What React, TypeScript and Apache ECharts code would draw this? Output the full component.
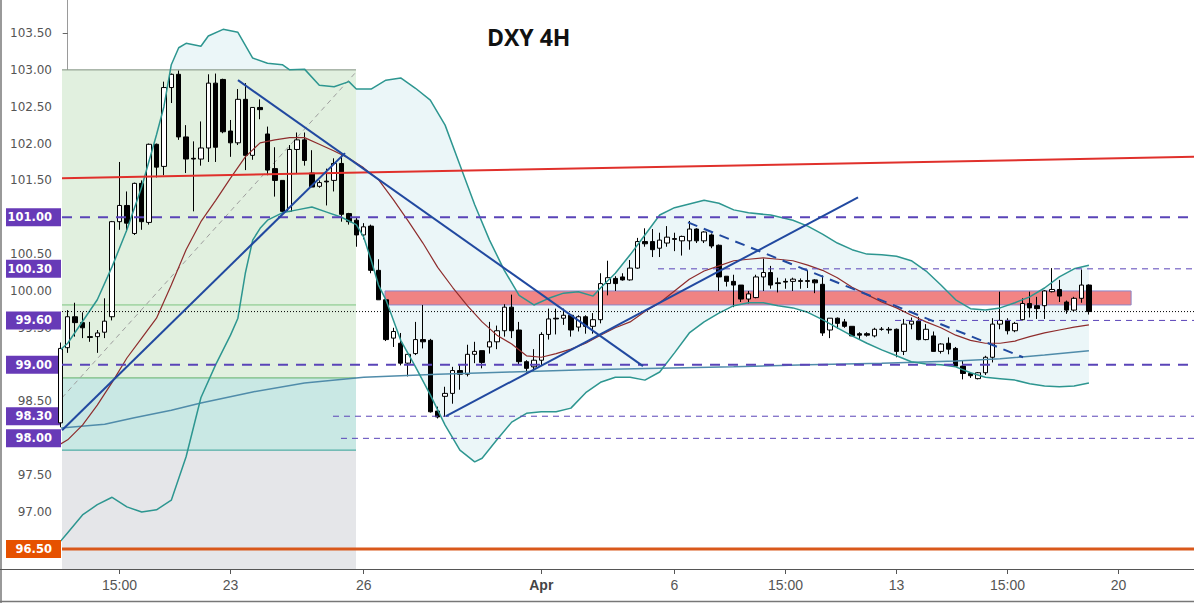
import React, { useEffect, useRef } from 'react';
import * as echarts from 'echarts';

// ---------- axes ----------
const X_MIN = -0.77;
const X_MAX = 152.2;
const Y_MIN = 96.227;
const Y_MAX = 103.948;

const TICK_IDX = [7, 22, 40, 64, 82, 97, 112, 127, 142];
const TICK_LABELS = ['15:00', '23', '26', 'Apr', '6', '15:00', '13', '15:00', '20'];

const Y_LABELS = [97, 97.5, 98.5, 99.5, 100, 100.5, 101.5, 102, 102.5, 103, 103.5];
const KEY_LEVELS = [101.0, 100.3, 99.6, 99.0, 98.3, 98.0];
const SUPPORT_LEVEL = 96.5;

// ---------- candles: [index, open, close, low, high] ----------
const CANDLES: number[][] = [
  [-1, 98.21, 99.22, 98.15, 99.3],
  [0, 99.23, 99.65, 99.16, 99.74],
  [1, 99.65, 99.57, 99.38, 99.84],
  [2, 99.57, 99.5, 99.36, 99.71],
  [3, 99.38, 99.37, 99.31, 99.58],
  [4, 99.38, 99.43, 99.16, 99.47],
  [5, 99.44, 99.59, 99.36, 99.9],
  [6, 99.65, 100.94, 99.6, 100.95],
  [7, 100.94, 101.16, 100.83, 101.75],
  [8, 101.16, 100.92, 100.8, 101.35],
  [9, 100.78, 101.46, 100.76, 101.47],
  [10, 101.46, 100.94, 100.83, 101.5],
  [11, 100.93, 101.99, 100.9, 102.0],
  [12, 101.99, 101.68, 101.54, 102.0],
  [13, 101.69, 102.76, 101.57, 102.84],
  [14, 102.76, 102.94, 102.55, 102.95],
  [15, 102.94, 102.09, 102.05, 102.99],
  [16, 102.09, 101.79, 101.6, 102.25],
  [17, 101.8, 101.79, 101.08, 102.03],
  [18, 101.79, 101.94, 101.7, 102.3],
  [19, 101.94, 102.82, 101.75, 102.94],
  [20, 102.82, 101.95, 101.75, 102.95],
  [21, 102.87, 102.16, 102.14, 102.88],
  [22, 102.17, 102.01, 101.82, 102.32],
  [23, 102.01, 102.6, 101.98, 102.74],
  [24, 102.6, 101.84, 101.64, 102.82],
  [25, 101.84, 102.49, 101.78, 102.49],
  [26, 102.49, 102.46, 102.33, 102.6],
  [27, 102.13, 101.64, 101.57, 102.23],
  [28, 101.66, 101.5, 101.28, 101.95],
  [29, 101.5, 101.08, 101.07, 101.5],
  [30, 101.08, 101.92, 101.07, 101.98],
  [31, 101.92, 102.05, 101.6, 102.15],
  [32, 102.05, 101.77, 101.7, 102.15],
  [33, 101.6, 101.41, 101.41, 101.91],
  [34, 101.42, 101.47, 101.4, 101.5],
  [35, 101.49, 101.48, 101.16, 101.66],
  [36, 101.5, 101.73, 101.35, 101.8],
  [37, 101.73, 101.04, 100.94, 101.84],
  [38, 101.05, 100.94, 100.9, 101.06],
  [39, 100.96, 100.76, 100.6, 101.0],
  [40, 100.76, 100.87, 100.7, 100.92],
  [41, 100.88, 100.28, 100.24, 100.9],
  [42, 100.28, 99.88, 99.88, 100.43],
  [43, 99.88, 99.34, 99.32, 99.9],
  [44, 99.36, 99.45, 99.24, 99.5],
  [45, 99.29, 99.02, 98.99, 99.43],
  [46, 99.02, 99.14, 98.84, 99.14],
  [47, 99.15, 99.34, 99.13, 99.58],
  [48, 99.34, 99.31, 99.22, 99.81],
  [49, 99.33, 98.36, 98.35, 99.35],
  [50, 98.37, 98.29, 98.27, 98.43],
  [51, 98.57, 98.61, 98.29, 98.7],
  [52, 98.61, 98.92, 98.47, 98.97],
  [53, 98.92, 98.87, 98.66, 99.0],
  [54, 98.87, 99.14, 98.84, 99.27],
  [55, 99.14, 99.18, 99.02, 99.31],
  [56, 99.19, 99.03, 98.95, 99.19],
  [57, 99.24, 99.31, 99.15, 99.58],
  [58, 99.31, 99.46, 99.21, 99.53],
  [59, 99.46, 99.78, 99.38, 99.82],
  [60, 99.78, 99.46, 99.36, 99.95],
  [61, 99.47, 99.04, 99.0, 99.58],
  [62, 99.04, 98.95, 98.89, 99.06],
  [63, 98.97, 99.06, 98.9, 99.21],
  [64, 99.06, 99.41, 98.99, 99.44],
  [65, 99.41, 99.62, 99.34, 99.76],
  [66, 99.63, 99.62, 99.41, 99.76],
  [67, 99.63, 99.67, 99.54, 99.76],
  [68, 99.67, 99.47, 99.38, 99.68],
  [69, 99.51, 99.65, 99.45, 99.67],
  [70, 99.65, 99.52, 99.42, 99.67],
  [71, 99.52, 99.61, 99.42, 99.7],
  [72, 99.61, 100.1, 99.56, 100.24],
  [73, 100.1, 100.18, 99.94, 100.41],
  [74, 100.17, 100.1, 100.0, 100.2],
  [75, 100.19, 100.15, 100.14, 100.24],
  [76, 100.15, 100.31, 100.14, 100.42],
  [77, 100.31, 100.67, 100.3, 100.72],
  [78, 100.67, 100.64, 100.6, 100.85],
  [79, 100.67, 100.56, 100.46, 100.84],
  [80, 100.58, 100.69, 100.46, 100.79],
  [81, 100.65, 100.73, 100.6, 100.88],
  [82, 100.71, 100.7, 100.54, 100.79],
  [83, 100.68, 100.74, 100.48, 100.75],
  [84, 100.68, 100.84, 100.56, 100.95],
  [85, 100.84, 100.68, 100.65, 100.85],
  [86, 100.68, 100.8, 100.65, 100.81],
  [87, 100.76, 100.61, 100.58, 100.78],
  [88, 100.62, 100.19, 100.0, 100.63],
  [89, 100.2, 100.13, 100.06, 100.2],
  [90, 100.13, 100.08, 99.78, 100.22],
  [91, 100.08, 99.89, 99.85, 100.08],
  [92, 99.89, 99.96, 99.83, 100.0],
  [93, 99.91, 100.19, 99.9, 100.22],
  [94, 100.19, 100.25, 100.0, 100.44],
  [95, 100.25, 100.08, 100.03, 100.34],
  [96, 100.11, 100.1, 99.98, 100.18],
  [97, 100.13, 100.12, 100.03, 100.17],
  [98, 100.13, 100.16, 100.0, 100.18],
  [99, 100.14, 100.13, 100.03, 100.17],
  [100, 100.14, 100.13, 100.04, 100.28],
  [101, 100.15, 100.11, 99.97, 100.16],
  [102, 100.09, 99.43, 99.39, 100.21],
  [103, 99.47, 99.63, 99.36, 99.63],
  [104, 99.63, 99.56, 99.49, 99.64],
  [105, 99.58, 99.52, 99.5, 99.62],
  [106, 99.52, 99.39, 99.39, 99.52],
  [107, 99.42, 99.4, 99.35, 99.44],
  [108, 99.42, 99.4, 99.38, 99.44],
  [109, 99.39, 99.48, 99.37, 99.5],
  [110, 99.48, 99.48, 99.46, 99.51],
  [111, 99.48, 99.47, 99.42, 99.51],
  [112, 99.48, 99.18, 99.1, 99.49],
  [113, 99.18, 99.55, 99.13, 99.62],
  [114, 99.55, 99.59, 99.48, 99.64],
  [115, 99.59, 99.34, 99.33, 99.65],
  [116, 99.34, 99.48, 99.33, 99.55],
  [117, 99.39, 99.18, 99.18, 99.45],
  [118, 99.18, 99.28, 99.15, 99.29],
  [119, 99.29, 99.21, 99.14, 99.37],
  [120, 99.22, 98.98, 98.98, 99.24],
  [121, 98.98, 98.88, 98.8, 99.05],
  [122, 98.88, 98.85, 98.82, 98.89],
  [123, 98.81, 98.89, 98.8, 98.9],
  [124, 98.89, 99.1, 98.86, 99.12],
  [125, 99.1, 99.55, 99.03, 99.63],
  [126, 99.55, 99.6, 99.48, 99.99],
  [127, 99.6, 99.46, 99.41, 99.63],
  [128, 99.46, 99.56, 99.44, 99.58],
  [129, 99.61, 99.83, 99.6, 99.9],
  [130, 99.83, 99.77, 99.64, 99.99],
  [131, 99.8, 99.76, 99.62, 99.92],
  [132, 99.8, 100.0, 99.62, 100.01],
  [133, 99.99, 100.02, 99.98, 100.31],
  [134, 100.02, 99.93, 99.85, 100.15],
  [135, 99.85, 99.74, 99.69, 99.87],
  [136, 99.74, 99.9, 99.72, 99.92],
  [137, 99.9, 100.08, 99.84, 100.29],
  [138, 100.08, 99.72, 99.68, 100.09],
];

// ---------- indicators: [index, value] ----------
const BB_UPPER: number[][] = [
  [-1, 99.2], [0, 99.29], [4, 99.88], [6, 100.33], [8, 100.83], [10, 101.41], [12, 102.12], [13, 102.5],
  [14, 103.07], [15, 103.3], [16, 103.36], [18, 103.32], [19, 103.46], [21, 103.55], [23, 103.51],
  [25, 103.16], [27, 103.09], [29, 103.07], [30, 103.0], [32, 103.01], [34, 102.79], [36, 102.77],
  [38, 102.84], [39, 102.74], [41, 102.74], [43, 102.86], [45, 102.89], [47, 102.75], [49, 102.59],
  [51, 102.25], [53, 101.71], [55, 101.17], [57, 100.69], [59, 100.28], [61, 99.94], [63, 99.81],
  [65, 99.9], [67, 99.97], [69, 99.99], [71, 99.93], [72, 100.04], [74, 100.24], [76, 100.49],
  [78, 100.76], [80, 101.03], [82, 101.13], [84, 101.18], [86, 101.23], [88, 101.19], [90, 101.1],
  [92, 101.06], [95, 101.03], [98, 100.96], [100, 100.88], [102, 100.77], [104, 100.65], [106, 100.56],
  [108, 100.5], [110, 100.49], [112, 100.47], [114, 100.41], [116, 100.27], [118, 100.08], [120, 99.88],
  [122, 99.76], [124, 99.74], [126, 99.77], [128, 99.84], [130, 99.92], [132, 100.04], [134, 100.19],
  [136, 100.3], [138, 100.35],
];
const BB_LOWER: number[][] = [
  [-1, 96.6], [0, 96.72], [2, 96.96], [4, 97.1], [6, 97.2], [8, 97.07], [10, 97.0], [12, 97.03],
  [14, 97.16], [16, 97.75], [17, 98.15], [18, 98.55], [20, 99.0], [22, 99.4], [23, 99.63], [24, 100.24],
  [25, 100.69], [26, 100.85], [27, 100.96], [29, 101.06], [31, 101.1], [33, 101.14], [35, 101.07],
  [37, 101.0], [39, 100.9], [40, 100.73], [41, 100.42], [42, 100.08], [43, 99.88], [45, 99.33],
  [47, 98.97], [49, 98.59], [51, 98.18], [53, 97.84], [55, 97.68], [56, 97.73], [58, 97.98], [60, 98.22],
  [62, 98.34], [64, 98.36], [66, 98.36], [68, 98.41], [70, 98.62], [72, 98.76], [74, 98.83], [76, 98.83],
  [78, 98.79], [80, 98.9], [82, 99.16], [84, 99.43], [86, 99.58], [88, 99.7], [90, 99.8], [92, 99.84],
  [94, 99.84], [96, 99.8], [98, 99.77], [100, 99.71], [102, 99.61], [104, 99.5], [106, 99.39], [108, 99.29],
  [110, 99.2], [112, 99.12], [114, 99.04], [116, 99.01], [118, 99.0], [120, 98.97], [122, 98.89],
  [124, 98.83], [126, 98.81], [128, 98.79], [130, 98.74], [132, 98.71], [134, 98.7], [136, 98.71],
  [138, 98.75],
];
const BB_BASIS: number[][] = [
  [-1, 97.92], [0, 97.98], [2, 98.18], [4, 98.45], [6, 98.76], [8, 99.09], [10, 99.36], [12, 99.63],
  [14, 100.08], [16, 100.56], [18, 100.94], [20, 101.23], [22, 101.53], [24, 101.82], [26, 102.01],
  [28, 102.05], [30, 102.08], [32, 102.08], [34, 101.99], [36, 101.9], [38, 101.8], [40, 101.67],
  [42, 101.51], [44, 101.24], [46, 100.95], [48, 100.65], [50, 100.32], [52, 100.05], [54, 99.8],
  [56, 99.58], [58, 99.4], [60, 99.28], [62, 99.12], [64, 99.1], [66, 99.15], [68, 99.21], [70, 99.29],
  [72, 99.4], [74, 99.5], [76, 99.58], [78, 99.72], [80, 99.84], [82, 100.0], [84, 100.16], [86, 100.27],
  [88, 100.34], [90, 100.41], [92, 100.43], [94, 100.45], [96, 100.43], [98, 100.41], [100, 100.35],
  [102, 100.28], [104, 100.18], [106, 100.05], [108, 99.95], [110, 99.85], [112, 99.77], [114, 99.67],
  [116, 99.58], [118, 99.5], [120, 99.4], [122, 99.33], [124, 99.29], [126, 99.29], [128, 99.32],
  [130, 99.38], [132, 99.43], [134, 99.47], [136, 99.51], [138, 99.54],
];
const MA_LONG: number[][] = [
  [-1, 98.14], [5, 98.19], [9, 98.28], [14, 98.38], [18, 98.48], [25, 98.63], [32, 98.75], [40, 98.83],
  [50, 98.87], [60, 98.9], [70, 98.93], [80, 98.95], [90, 98.97], [100, 99.0], [110, 99.02], [120, 99.05],
  [126, 99.08], [132, 99.13], [138, 99.19],
];

// ---------- drawings ----------
const POSITION_X = [-0.77, 38.96];
const GREEN_ZONE = [98.82, 103.0];
const TEAL_ZONE = [97.84, 98.82];
const GRAY_ZONE = [96.227, 97.84];
const POSITION_ENTRY = 99.81;
const POSITION_DIAG = [[-0.77, 98.55], [38.96, 102.97]];

const SUPPLY_X = [42.88, 143.7];
const SUPPLY_Y = [99.81, 100.0];

const MAJOR_LEVELS = [101.0, 99.0];
const MINOR_LEVELS = [100.3, 99.6, 98.3, 98.0];
const MINOR_LEVEL_START = [79.77, 111.8, 35.85, 36.93];
const LAST_PRICE = 99.72;

const RED_TREND = [[-0.77, 101.53], [152.2, 101.82]];
const BLUE_TRENDS = [
  [[-0.77, 98.11], [37.47, 101.87]],
  [[23.01, 102.86], [77.74, 98.98]],
  [[51.12, 98.3], [106.8, 101.27]],
];
const BLUE_DASHED = [[83.82, 100.93], [129.1, 99.1]];

const PURPLE = '#673ab7';
const ORANGE = '#e65100';

function line(data: number[][], color: string, width: number, type: any, z: number) {
  return {
    type: 'line',
    data,
    showSymbol: false,
    symbol: 'none',
    silent: true,
    clip: true,
    z,
    lineStyle: { color, width, type },
  };
}

function rectSeries(rects: number[][], fills: string[], z: number) {
  return {
    type: 'custom',
    silent: true,
    z,
    clip: true,
    data: rects.map((r, i) => [...r, i]),
    renderItem: (params: any, api: any) => {
      const a = api.coord([api.value(0), api.value(3)]);
      const b = api.coord([api.value(2), api.value(1)]);
      const idx = api.value(4);
      return {
        type: 'rect',
        shape: { x: a[0], y: a[1], width: b[0] - a[0], height: b[1] - a[1] },
        style: { fill: fills[idx], stroke: idx >= 3 ? '#8a86c8' : 'none', lineWidth: 1 },
      };
    },
  };
}

export default function App() {
  const ref = useRef<HTMLDivElement>(null);

  useEffect(() => {
    const chart = echarts.init(ref.current!, null, { renderer: 'svg' });

    const allY = [...Y_LABELS, ...KEY_LEVELS, SUPPORT_LEVEL];
    const isKey = (v: number) => KEY_LEVELS.some((k) => Math.abs(k - v) < 1e-6);

    const series: any[] = [];

    // Bollinger fill
    series.push({
      type: 'custom',
      silent: true,
      z: 1,
      clip: true,
      data: [[0, 100]],
      renderItem: (params: any, api: any) => {
        const pts: number[][] = [];
        BB_UPPER.forEach((p) => pts.push(api.coord(p)));
        for (let k = BB_LOWER.length - 1; k >= 0; k--) pts.push(api.coord(BB_LOWER[k]));
        return { type: 'polygon', shape: { points: pts }, style: { fill: '#ebf6f8' } };
      },
    });

    // position zones + supply zone
    series.push(
      rectSeries(
        [
          [POSITION_X[0], GREEN_ZONE[0], POSITION_X[1], GREEN_ZONE[1]],
          [POSITION_X[0], TEAL_ZONE[0], POSITION_X[1], TEAL_ZONE[1]],
          [POSITION_X[0], GRAY_ZONE[0], POSITION_X[1], GRAY_ZONE[1]],
          [SUPPLY_X[0], SUPPLY_Y[0], SUPPLY_X[1], SUPPLY_Y[1]],
        ],
        ['#e1f0df', '#c9e8e4', '#e5e6e9', 'rgba(240,110,110,0.85)'],
        2
      )
    );

    // zone edge lines
    series.push(line([[POSITION_X[0], GREEN_ZONE[1]], [POSITION_X[1], GREEN_ZONE[1]]], '#7f9080', 1, 'solid', 3));
    series.push(line([[POSITION_X[0], POSITION_ENTRY], [POSITION_X[1], POSITION_ENTRY]], '#7cc47f', 1, 'solid', 3));
    series.push(line([[POSITION_X[0], GREEN_ZONE[0]], [POSITION_X[1], GREEN_ZONE[0]]], '#5fb06a', 1, 'solid', 3));
    series.push(line([[POSITION_X[0], TEAL_ZONE[0]], [POSITION_X[1], TEAL_ZONE[0]]], '#2f9e94', 1, 'solid', 3));
    series.push(line(POSITION_DIAG, '#9e9e9e', 1, [5, 4], 3));

    // candles
    series.push({
      type: 'candlestick',
      data: CANDLES,
      encode: { x: 0, y: [1, 2, 3, 4] },
      barWidth: 5,
      clip: true,
      silent: true,
      z: 4,
      itemStyle: {
        color: '#ffffff',
        color0: '#000000',
        borderColor: '#000000',
        borderColor0: '#000000',
        borderWidth: 1,
      },
    });

    // indicators
    series.push(line(MA_LONG, '#508caa', 1.5, 'solid', 5));
    series.push(line(BB_UPPER, '#2d9690', 1.5, 'solid', 5));
    series.push(line(BB_LOWER, '#2d9690', 1.5, 'solid', 5));
    series.push(line(BB_BASIS, '#8e2c2c', 1.2, 'solid', 5));

    // horizontal levels
    MAJOR_LEVELS.forEach((v) => series.push(line([[X_MIN, v], [X_MAX, v]], '#5a44b8', 2, [10, 8], 6)));
    MINOR_LEVELS.forEach((v, i) =>
      series.push(line([[MINOR_LEVEL_START[i], v], [X_MAX, v]], '#5a44b8', 1, [6, 5], 6))
    );
    series.push(line([[X_MIN, LAST_PRICE], [X_MAX, LAST_PRICE]], '#000000', 1, [1, 2], 6));
    series.push(line([[X_MIN, SUPPORT_LEVEL], [X_MAX, SUPPORT_LEVEL]], '#d9581b', 3, 'solid', 6));

    // trend lines
    series.push(line(RED_TREND, '#e0302b', 2, 'solid', 7));
    BLUE_TRENDS.forEach((seg) => series.push(line(seg, '#2149a0', 2, 'solid', 7)));
    series.push(line(BLUE_DASHED, '#2149a0', 2, [10, 7], 7));

    chart.setOption({
      animation: false,
      backgroundColor: '#ffffff',
      title: {
        text: 'DXY 4H',
        left: 487,
        top: 25,
        padding: 0,
        textStyle: { fontFamily: 'Open Sans', fontWeight: 'bold', fontSize: 23, color: '#111111' },
      },
      grid: { left: 62, right: 0, top: 0, bottom: 34, containLabel: false },
      xAxis: {
        type: 'value',
        min: X_MIN,
        max: X_MAX,
        axisLine: { show: true, lineStyle: { color: '#555555', width: 1 } },
        axisTick: { show: true, customValues: TICK_IDX, length: 5, lineStyle: { color: '#555555' } },
        axisLabel: {
          customValues: TICK_IDX,
          margin: 9,
          color: '#555555',
          fontSize: 14,
          fontFamily: 'Liberation Sans',
          formatter: (v: number) => {
            const i = TICK_IDX.findIndex((t) => Math.abs(t - v) < 1e-6);
            const s = i >= 0 ? TICK_LABELS[i] : '';
            return s === 'Apr' ? '{b|Apr}' : s;
          },
          rich: { b: { fontWeight: 'bold', fontSize: 14, fontFamily: 'Liberation Sans', color: '#444444' } },
        },
        splitLine: { show: false },
      },
      yAxis: {
        type: 'value',
        min: Y_MIN,
        max: Y_MAX,
        axisLine: { show: true, lineStyle: { color: '#9a9a9a' } },
        axisTick: { show: true, customValues: allY, length: 5, lineStyle: { color: '#666666' } },
        axisLabel: {
          customValues: allY,
          margin: 1,
          formatter: (v: number) => {
            const s = v.toFixed(2);
            if (Math.abs(v - SUPPORT_LEVEL) < 1e-6) return `{o|${s}}`;
            if (isKey(v)) return `{p|${s}}`;
            return `{n|${s}}`;
          },
          rich: {
            n: { color: '#555555', fontSize: 12, fontFamily: 'DejaVu Sans', padding: [0, 9, 0, 0] },
            p: {
              color: '#ffffff', fontSize: 11.5, fontWeight: 'bold', fontFamily: 'DejaVu Sans',
              backgroundColor: PURPLE, width: 45, height: 18, lineHeight: 18, align: 'right',
              padding: [0, 9, 0, 1],
            },
            o: {
              color: '#ffffff', fontSize: 11.5, fontWeight: 'bold', fontFamily: 'DejaVu Sans',
              backgroundColor: ORANGE, width: 45, height: 18, lineHeight: 18, align: 'right',
              padding: [0, 9, 0, 1],
            },
          },
        },
        splitLine: { show: false },
      },
      graphic: [
        { type: 'line', shape: { x1: 1, y1: 0, x2: 1, y2: 603 }, style: { stroke: '#777777', lineWidth: 1.5 }, silent: true },
        { type: 'line', shape: { x1: 0, y1: 601.5, x2: 1194, y2: 601.5 }, style: { stroke: '#777777', lineWidth: 1.5 }, silent: true },
        { type: 'line', shape: { x1: 0, y1: 569.5, x2: 62, y2: 569.5 }, style: { stroke: '#555555', lineWidth: 1 }, silent: true },
      ],
      series,
    });

    return () => chart.dispose();
  }, []);

  return (
    <div
      ref={ref}
      style={{ position: 'fixed', left: 0, top: 0, width: 1194, height: 603, background: '#ffffff' }}
    />
  );
}
